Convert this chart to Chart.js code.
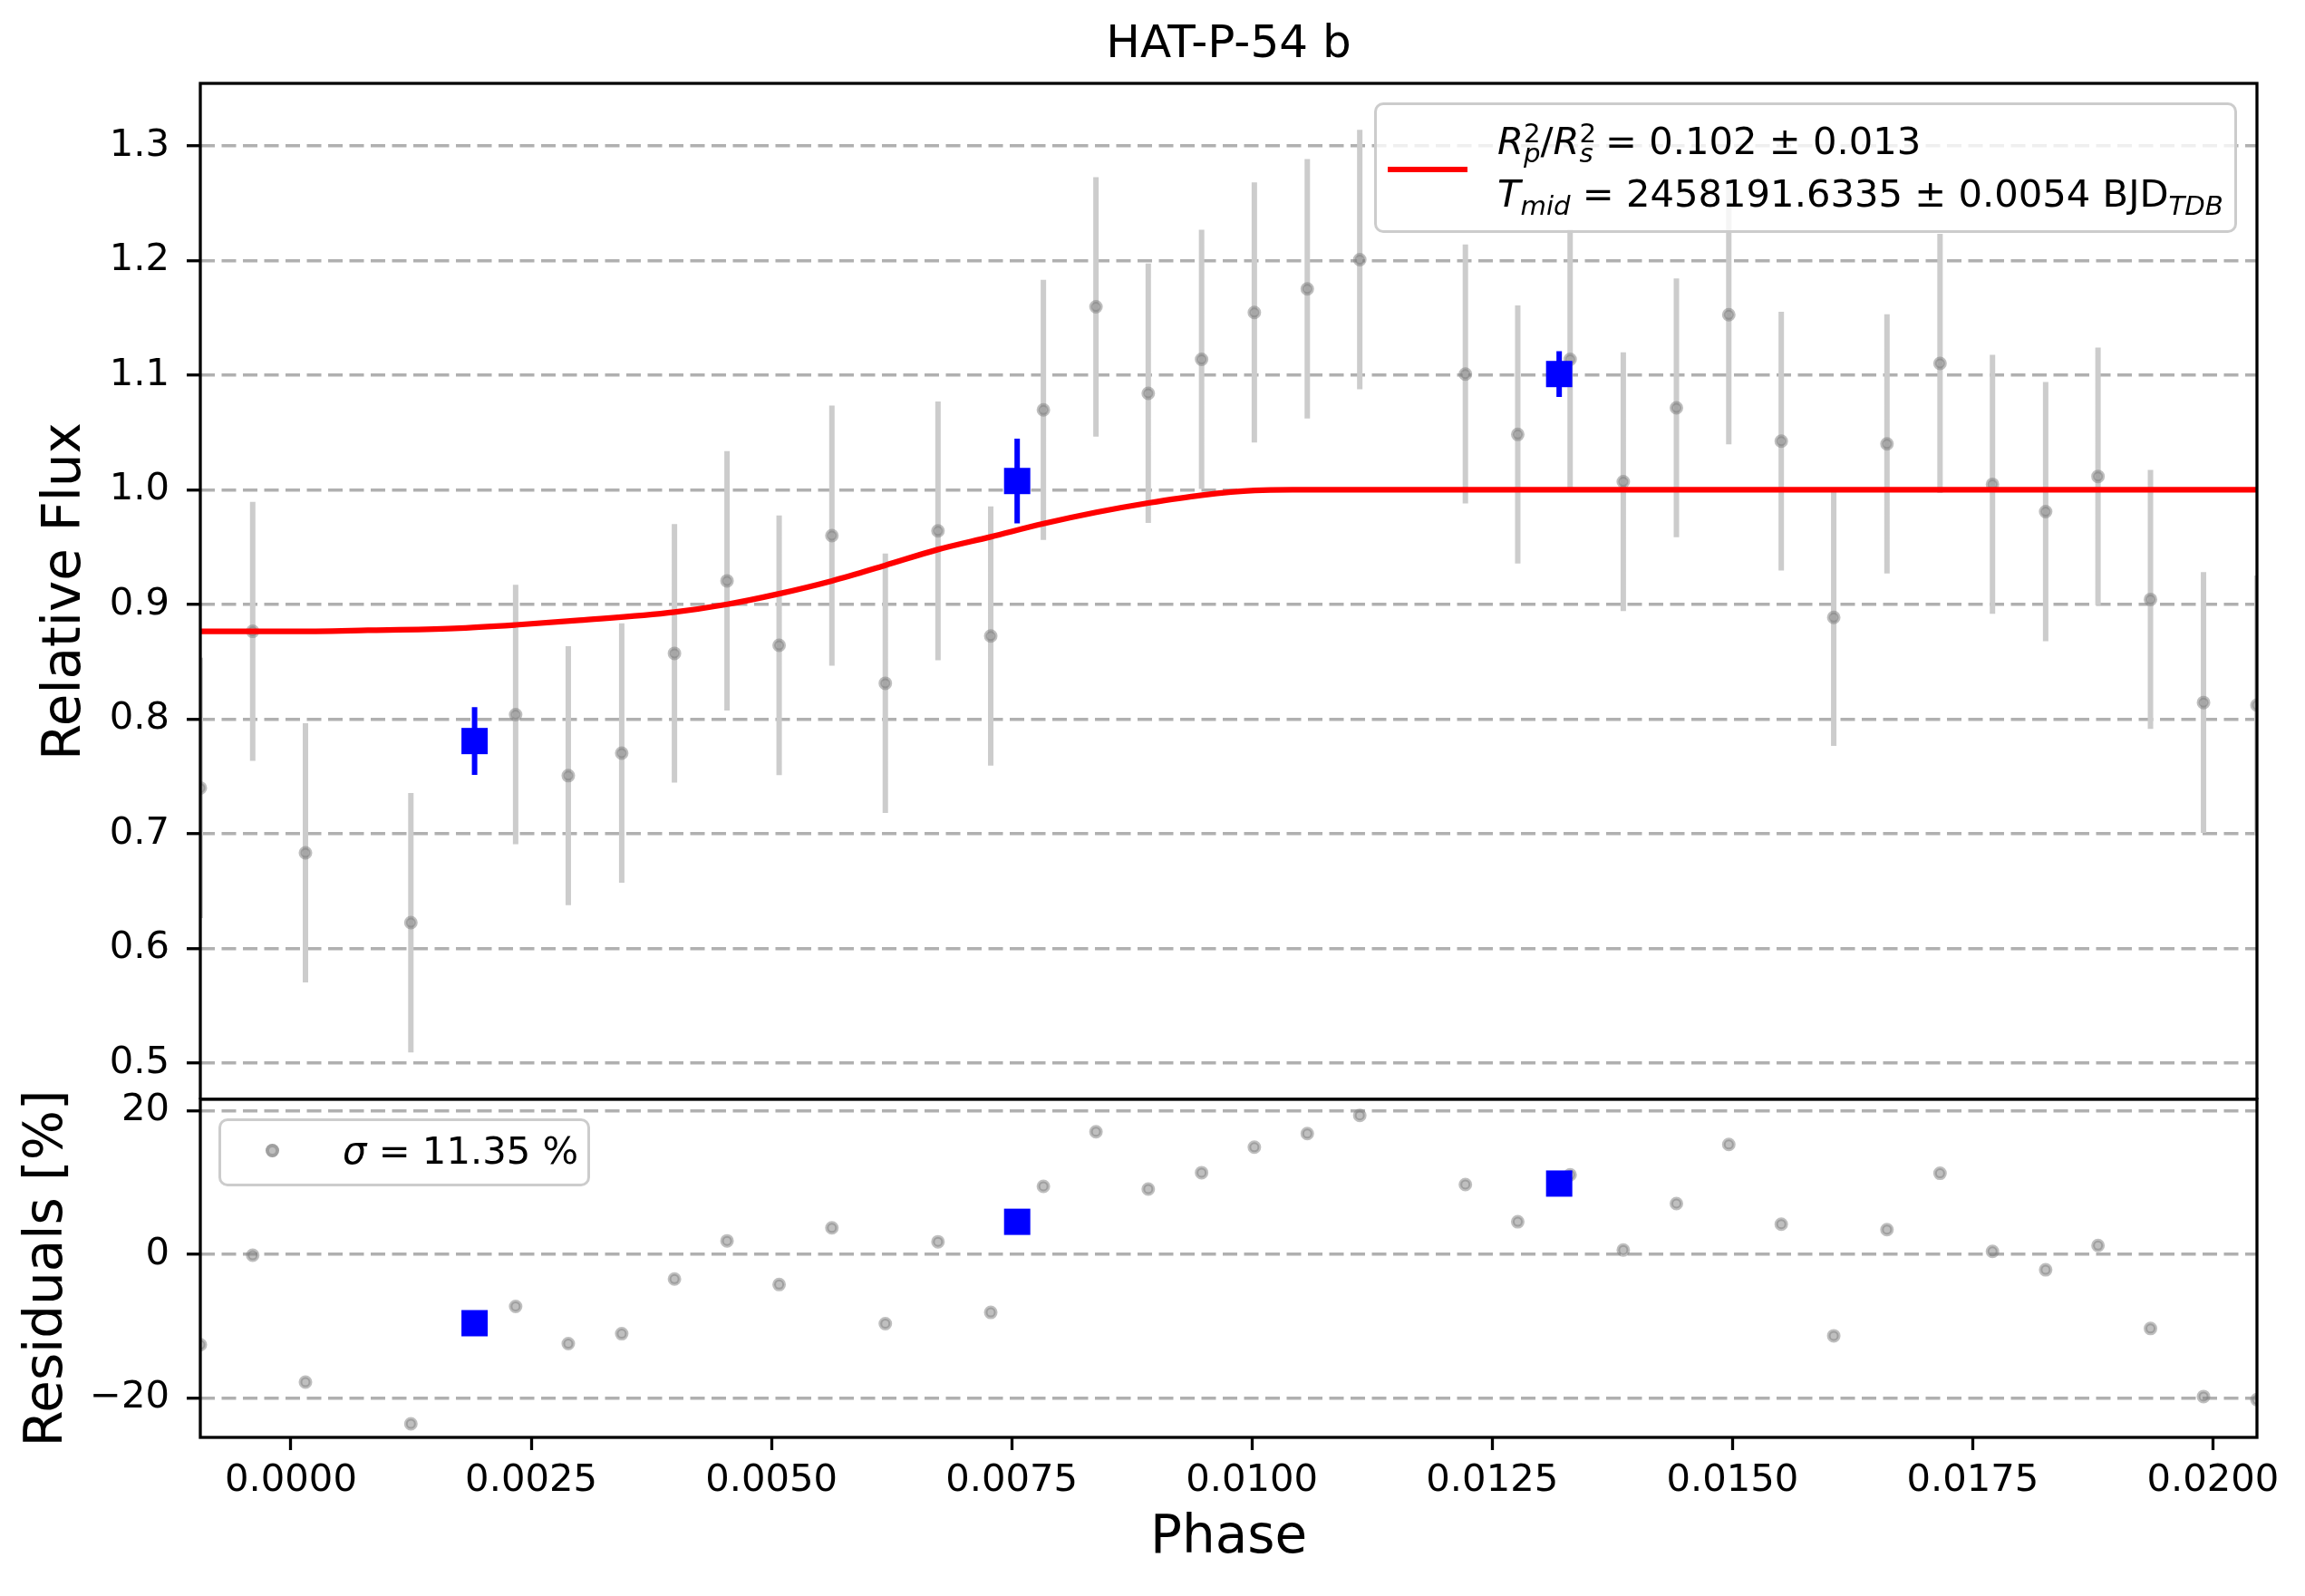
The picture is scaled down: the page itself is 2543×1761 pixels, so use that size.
<!DOCTYPE html>
<html>
<head>
<meta charset="utf-8">
<title>HAT-P-54 b</title>
<script src="https://cdn.jsdelivr.net/npm/chart.js@4.4.0/dist/chart.umd.min.js"></script>
<style>
  html, body { margin: 0; padding: 0; background: #fff; }
  body { position: relative; width: 2543px; height: 1761px; overflow: hidden; font-family: 'DejaVu Sans', sans-serif; }
  canvas { position: absolute; left: 0; }
  .legend { position: absolute; box-sizing: border-box; border: 3px solid #cccccc; border-radius: 10px; background: rgba(255, 255, 255, 0.8); }
  .txt { position: absolute; font-size: 41.7px; line-height: 50px; white-space: nowrap; color: #000; }
  .sup { font-size: 0.7em; position: relative; top: -13px; }
  .sub { font-size: 0.7em; position: relative; top: 9px; font-style: italic; }
  .pair { margin-left: -0.636em; }
  .swatch { position: absolute; background: #ff0000; }
  .dot { position: absolute; box-sizing: border-box; border-radius: 50%; border: 4px solid rgba(128, 128, 128, 0.5); background: rgba(128, 128, 128, 0.5); }
</style>
</head>
<body>
<canvas id="fluxChart" width="2543" height="1213" style="top:0"></canvas>
<canvas id="residChart" width="2543" height="611" style="top:1150px"></canvas>

<div class="legend" style="left:1516px; top:113px; width:952px; height:144px;"></div>
<div class="swatch" style="left:1531px; top:184px; width:88px; height:6px;"></div>
<div class="txt" style="left:1652px; top:130.6px;"><i>R</i><span class="sup">2</span><span class="sub pair">p</span>/<i>R</i><span class="sup">2</span><span class="sub pair">s</span> = 0.102 ± 0.013</div>
<div class="txt" style="left:1652px; top:188.6px;"><i>T</i><span class="sub">mid</span> = 2458191.6335 ± 0.0054 BJD<span class="sub">TDB</span></div>

<div class="legend" style="left:241px; top:1234px; width:410px; height:75px;"></div>
<div class="dot" style="left:292.5px; top:1261.5px; width:15px; height:15px;"></div>
<div class="txt" style="left:378px; top:1245px;"><i>σ</i> = 11.35 %</div>

<script>
Chart.defaults.font.family = "'DejaVu Sans', sans-serif";
Chart.defaults.color = '#000';

// Axis limits and ticks
const phaseMin = -0.000943;
const phaseMax = 0.020458;
const phaseTicks = [0, 0.0025, 0.005, 0.0075, 0.01, 0.0125, 0.015, 0.0175, 0.02];
const fluxMin = 0.4684;
const fluxMax = 1.3545;
const fluxTicks = [0.5, 0.6, 0.7, 0.8, 0.9, 1.0, 1.1, 1.2, 1.3];
const residMin = -25.49;
const residMax = 21.55;
const residTicks = [-20, 0, 20];

// Unbinned observations
const phases = [
    -0.000943, -0.000398, 0.000151, 0.001248, 0.002338, 0.002886, 0.003442, 0.003991,
    0.004538, 0.005080, 0.005629, 0.006185, 0.006733, 0.007282, 0.007830, 0.008377,
    0.008921, 0.009476, 0.010025, 0.010576, 0.011122, 0.012221, 0.012766, 0.013311,
    0.013864, 0.014417, 0.014962, 0.015508, 0.016054, 0.016608, 0.017160, 0.017706,
    0.018259, 0.018804, 0.019350, 0.019902, 0.020458
];
const flux = [
    0.7400, 0.8766, 0.6834, 0.6225, 0.8040, 0.7507, 0.7704, 0.8574,
    0.9206, 0.8644, 0.9601, 0.8313, 0.9642, 0.8725, 1.0697, 1.1596,
    1.0842, 1.1138, 1.1547, 1.1753, 1.2008, 1.1010, 1.0483, 1.1138,
    1.0071, 1.0715, 1.1527, 1.0425, 0.8887, 1.0401, 1.1103, 1.0048,
    0.9810, 1.0117, 0.9044, 0.8145, 0.8122
];
const fluxErr = [
    0.1135, 0.1130, 0.1130, 0.1131, 0.1131, 0.1130, 0.1131, 0.1128,
    0.1131, 0.1132, 0.1134, 0.1131, 0.1129, 0.1131, 0.1134, 0.1131,
    0.1131, 0.1131, 0.1134, 0.1131, 0.1131, 0.1129, 0.1126, 0.1132,
    0.1129, 0.1129, 0.1130, 0.1129, 0.1120, 0.1131, 0.1130, 0.1129,
    0.1131, 0.1123, 0.1129, 0.1137, 0.1130
];
const resid = [
    -12.60, -0.15, -17.80, -23.60, -7.26, -12.44, -11.06, -3.46,
    1.86, -4.22, 3.67, -9.66, 1.73, -8.10, 9.45, 17.05,
    9.07, 11.35, 14.89, 16.79, 19.32, 9.70, 4.51, 11.05,
    0.59, 7.05, 15.27, 4.18, -11.35, 3.43, 11.26, 0.39,
    -2.17, 1.21, -10.34, -19.80, -20.24
];

// Binned observations
const binPhase = [0.001911, 0.007557, 0.013197];
const binFlux = [0.7809, 1.0077, 1.1010];
const binErr = [0.0295, 0.0369, 0.0200];
const binResid = [-9.60, 4.51, 9.83];

// Transit model
const modelPhase = [
    -0.000943, 0.0000, 0.0008, 0.0017, 0.00234, 0.0030, 0.00399, 0.00454, 0.00508, 0.00563,
    0.00618, 0.00673, 0.00728, 0.00783, 0.00838, 0.00892, 0.00948, 0.01003, 0.01042, 0.020458
];
const modelFlux = [
    0.8766, 0.8765, 0.8775, 0.8792, 0.8822, 0.8862, 0.8934, 0.9002, 0.9094, 0.9206,
    0.9340, 0.9479, 0.9590, 0.9705, 0.9804, 0.9885, 0.9954, 0.9995, 1.0000, 1.0000
];

function toPoints(xs, ys) {
    return xs.map((x, i) => ({ x: x, y: ys[i] }));
}

// Vertical error bars as broken line segments
function errorSegments(xs, ys, errs) {
    const pts = [];
    xs.forEach((x, i) => {
        pts.push({ x: x, y: ys[i] - errs[i] });
        pts.push({ x: x, y: ys[i] + errs[i] });
        pts.push({ x: x, y: null });
    });
    return pts;
}

function fixTicks(values) {
    return scale => { scale.ticks = values.map(v => ({ value: v })); };
}

// Box around the axes
const framePlugin = {
    id: 'frame',
    afterDatasetsDraw(chart) {
        const { ctx, chartArea: a } = chart;
        ctx.save();
        ctx.strokeStyle = '#000';
        ctx.lineWidth = 3.3;
        ctx.strokeRect(a.left, a.top, a.right - a.left, a.bottom - a.top);
        ctx.restore();
    }
};

const grayPoint = {
    showLine: false,
    pointRadius: 5.5,
    pointBorderWidth: 4,
    pointBackgroundColor: 'rgba(128, 128, 128, 0.5)',
    pointBorderColor: 'rgba(128, 128, 128, 0.5)',
    clip: 0
};

const barLine = {
    pointRadius: 0,
    borderWidth: 6,
    spanGaps: false,
    tension: 0,
    clip: 0
};

const yGrid = {
    color: '#b0b0b0',
    lineWidth: 3.5,
    tickColor: '#000',
    tickLength: 15,
    tickWidth: 3.3
};

const baseOptions = {
    responsive: false,
    devicePixelRatio: 1,
    animation: false,
    events: [],
    plugins: {
        legend: { display: false },
        tooltip: { enabled: false }
    }
};

function createFluxChart() {
    const ctx = document.getElementById('fluxChart').getContext('2d');
    new Chart(ctx, {
        type: 'line',
        data: {
            datasets: [
                {
                    label: 'Binned',
                    data: toPoints(binPhase, binFlux),
                    showLine: false,
                    pointStyle: 'rect',
                    pointRadius: 20.5,
                    pointBorderWidth: 0,
                    pointBackgroundColor: '#0000ff',
                    pointBorderColor: '#0000ff',
                    clip: 0
                },
                {
                    label: 'Binned error',
                    data: errorSegments(binPhase, binFlux, binErr),
                    borderColor: '#0000ff',
                    ...barLine
                },
                {
                    label: 'Model',
                    data: toPoints(modelPhase, modelFlux),
                    borderColor: '#ff0000',
                    borderWidth: 6.25,
                    pointRadius: 0,
                    cubicInterpolationMode: 'monotone',
                    clip: 0
                },
                {
                    label: 'Data',
                    data: toPoints(phases, flux),
                    ...grayPoint
                },
                {
                    label: 'Data error',
                    data: errorSegments(phases, flux, fluxErr),
                    borderColor: '#cccccc',
                    ...barLine
                }
            ]
        },
        options: {
            ...baseOptions,
            layout: { autoPadding: false, padding: { left: 0, right: 53, top: 0, bottom: 0 } },
            plugins: {
                ...baseOptions.plugins,
                title: {
                    display: true,
                    text: 'HAT-P-54 b',
                    fullSize: false,
                    color: '#000',
                    font: { size: 50, weight: 'normal' },
                    padding: { top: 20, bottom: 12 }
                }
            },
            scales: {
                x: {
                    type: 'linear',
                    min: phaseMin,
                    max: phaseMax,
                    display: false,
                    afterFit: s => { s.paddingLeft = 0; s.paddingRight = 0; }
                },
                y: {
                    min: fluxMin,
                    max: fluxMax,
                    afterBuildTicks: fixTicks(fluxTicks),
                    afterFit: s => { s.width = 221; s.paddingTop = 0; s.paddingBottom = 0; },
                    grid: yGrid,
                    border: { display: false, dash: [16, 7.5] },
                    ticks: {
                        padding: 19,
                        font: { size: 41.7 },
                        callback: v => v.toFixed(1)
                    },
                    title: {
                        display: true,
                        text: 'Relative Flux',
                        font: { size: 58 },
                        padding: { top: 38.5, bottom: 0 }
                    }
                }
            }
        },
        plugins: [framePlugin]
    });
}

function createResidualChart() {
    const ctx = document.getElementById('residChart').getContext('2d');
    new Chart(ctx, {
        type: 'line',
        data: {
            datasets: [
                {
                    label: 'Binned',
                    data: toPoints(binPhase, binResid),
                    showLine: false,
                    pointStyle: 'rect',
                    pointRadius: 20.5,
                    pointBorderWidth: 0,
                    pointBackgroundColor: '#0000ff',
                    pointBorderColor: '#0000ff',
                    clip: 0
                },
                {
                    label: 'Residuals',
                    data: toPoints(phases, resid),
                    ...grayPoint
                }
            ]
        },
        options: {
            ...baseOptions,
            // canvas starts 63px above the panel so the top tick label is not cut
            layout: { autoPadding: false, padding: { left: 0, right: 53, top: 63, bottom: 0 } },
            scales: {
                x: {
                    type: 'linear',
                    min: phaseMin,
                    max: phaseMax,
                    afterBuildTicks: fixTicks(phaseTicks),
                    afterFit: s => { s.height = 175; s.paddingLeft = 0; s.paddingRight = 0; },
                    grid: {
                        drawOnChartArea: false,
                        tickColor: '#000',
                        tickLength: 14,
                        tickWidth: 3.3
                    },
                    border: { display: false },
                    ticks: {
                        padding: 9,
                        maxRotation: 0,
                        autoSkip: false,
                        font: { size: 41.7 },
                        callback: v => v.toFixed(4)
                    },
                    title: {
                        display: true,
                        text: 'Phase',
                        font: { size: 58 },
                        padding: { top: 0, bottom: 28 }
                    }
                },
                y: {
                    min: residMin,
                    max: residMax,
                    afterBuildTicks: fixTicks(residTicks),
                    afterFit: s => { s.width = 221; s.paddingTop = 0; s.paddingBottom = 0; },
                    grid: yGrid,
                    border: { display: false, dash: [16, 7.5] },
                    ticks: {
                        padding: 19,
                        font: { size: 41.7 },
                        callback: v => (v < 0 ? '\u2212' + Math.abs(v) : String(v))
                    },
                    title: {
                        display: true,
                        text: 'Residuals [%]',
                        font: { size: 58 },
                        padding: { top: 18, bottom: 0 }
                    }
                }
            }
        },
        plugins: [framePlugin]
    });
}

createFluxChart();
createResidualChart();
</script>
</body>
</html>
